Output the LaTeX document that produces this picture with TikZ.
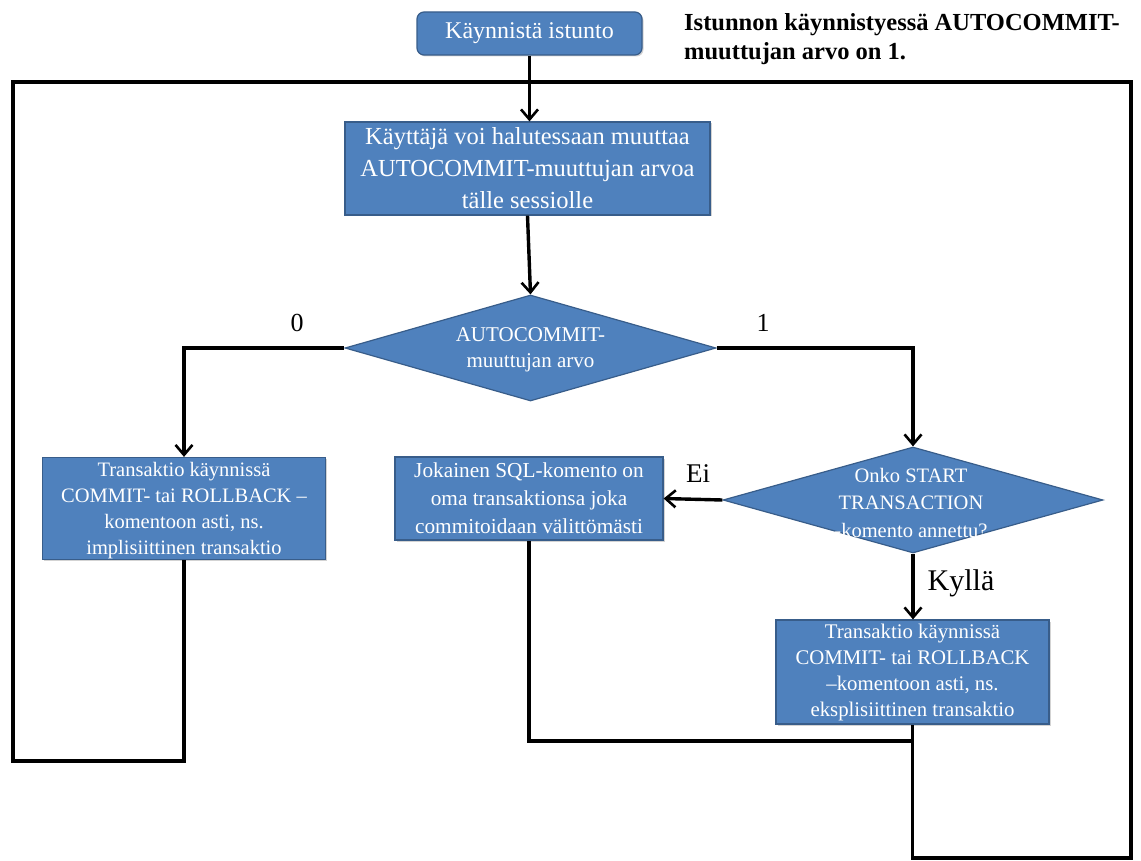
\documentclass[tikz,border=0pt]{standalone}
\usepackage{fontspec}
\setmainfont{Liberation Serif}
\usetikzlibrary{arrows.meta,shapes.geometric,shadows}
\definecolor{boxfill}{HTML}{4F81BD}
\definecolor{boxline}{HTML}{385D8A}
\tikzset{
  box/.style={rectangle, fill=boxfill, draw=boxline, line width=1.2pt, inner sep=0pt, text=white, align=center, drop shadow={shadow xshift=1.5pt, shadow yshift=-1.5pt, opacity=0.35}},
  dia/.style={diamond, fill=boxfill, draw=boxline, line width=1.2pt, inner sep=0pt},
  dtext/.style={text=white, align=center, inner sep=0pt},
  conn/.style={line width=3.4pt, draw=black},
  arr/.style={conn, -{Straight Barb[length=10pt, width=17pt, line width=2.6pt]}},
  lbl/.style={inner sep=0pt, text=black},
}
\begin{document}
\begin{tikzpicture}[x=1pt, y=-1pt]
\path[use as bounding box] (0,0) rectangle (1141,861);
% nodes
\node[box, rounded corners=7pt, minimum width=225pt, minimum height=43pt, font=\fontsize{24}{26}\selectfont] (start) at (529.5,33.5) {Käynnistä istunto};
\node[box, minimum width=365pt, minimum height=93pt, font=\fontsize{24.5}{32}\selectfont] (main) at (527.5,168.5) {Käyttäjä voi halutessaan muuttaa\\AUTOCOMMIT-muuttujan arvoa\\tälle sessiolle};
\node[dia, minimum width=371pt, minimum height=106pt] (d1) at (530.5,348) {};
\node[dtext, font=\fontsize{21}{26}\selectfont] (d1t) at (530.5,350) {AUTOCOMMIT-\\muuttujan arvo};
\node[box, minimum width=283pt, minimum height=102pt, font=\fontsize{20.5}{26}\selectfont] (L) at (184,508.5) {};
\node[dtext, font=\fontsize{20.5}{26}\selectfont] (Lt) at (184,511) {Transaktio käynnissä\\COMMIT- tai ROLLBACK –\\komentoon asti, ns.\\implisiittinen transaktio};
\node[box, minimum width=268pt, minimum height=83pt, font=\fontsize{21.3}{28}\selectfont] (M) at (529,498.5) {Jokainen SQL-komento on\\oma transaktionsa joka\\commitoidaan välittömästi};
\node[dia, minimum width=380pt, minimum height=106pt] (d2) at (913,500) {};
\node[dtext, font=\fontsize{20.5}{27.5}\selectfont] (d2t) at (911,503) {Onko START\\TRANSACTION\\-komento annettu?};
\node[box, minimum width=273pt, minimum height=104pt, font=\fontsize{20.8}{26}\selectfont] (R) at (912.5,672) {Transaktio käynnissä\\COMMIT- tai ROLLBACK\\–komentoon asti, ns.\\eksplisiittinen transaktio};
% annotation
\node[lbl, anchor=north west, align=left, font=\bfseries\fontsize{24.5}{29}\selectfont] (note) at (684,13) {Istunnon käynnistyessä AUTOCOMMIT-\\muuttujan arvo on 1.};
% labels
\node[lbl, font=\fontsize{26}{26}\selectfont] (l0) at (297,323) {0};
\node[lbl, font=\fontsize{26}{26}\selectfont] (l1) at (763,323) {1};
\node[lbl, font=\fontsize{27}{27}\selectfont] (lei) at (698,474) {Ei};
\node[lbl, font=\fontsize{30}{30}\selectfont] (lky) at (961,583) {Kyllä};
% loop coordinates
\coordinate (tl) at (13,82);
\coordinate (tr) at (1131,82);
\coordinate (bl) at (13,761);
\coordinate (br) at (1131,858);
\coordinate (mj) at (912,741);
% connectors
\draw[conn] (L.south) -- (L.south |- bl) -- (bl) -- (tl) -- (tr) -- (br) -- (R.south |- br) -- (R.south);
\draw[conn] (M.south) -- (M.south |- mj) -- (mj);
\draw[arr] (start.south) -- (start.south |- main.north);
\draw[arr] (main.south) -- (d1.north);
\draw[arr] (d1.west) -| (L.north);
\draw[arr] (d1.east) -| (d2.north);
\draw[arr] (d2.west) -- (M.east);
\draw[arr] (d2.south) -- (d2.south |- R.north);
\end{tikzpicture}
\end{document}
